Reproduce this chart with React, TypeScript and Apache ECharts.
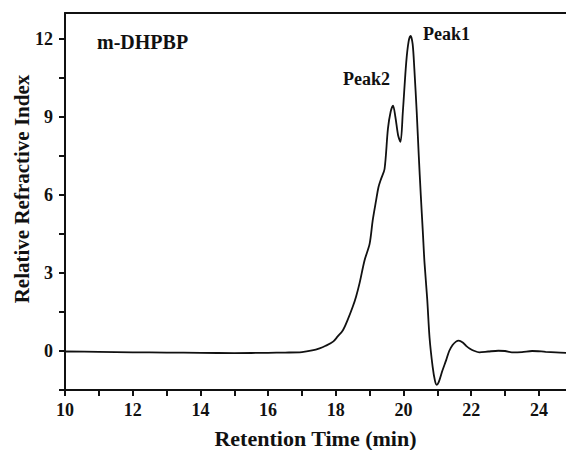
import React, { useEffect, useRef } from "react";
import * as echarts from "echarts";

// Retention time (min)
const times = [
  10, 11, 12, 13, 14, 15, 16, 16.5, 17, 17.3,
  17.52, 17.7, 17.92, 18.05, 18.21, 18.35, 18.5, 18.6, 18.7, 18.85,
  19.0, 19.09, 19.19, 19.26, 19.34, 19.44, 19.54, 19.62, 19.69, 19.76,
  19.84, 19.91, 19.98, 20.08, 20.15, 20.21, 20.27, 20.32, 20.39, 20.45,
  20.51, 20.57, 20.62, 20.7, 20.77, 20.86, 20.93, 20.98, 21.04, 21.15,
  21.26, 21.35, 21.45, 21.55, 21.63, 21.75, 21.85, 21.95, 22.1, 22.24,
  22.5, 22.8, 23.0, 23.2, 23.5, 23.8, 24.2, 24.5, 24.8,
];
// Relative refractive index signal
const signal = [
  -0.02, -0.03, -0.05, -0.06, -0.07, -0.08, -0.07, -0.06, -0.04, 0.02,
  0.1, 0.2, 0.36, 0.55, 0.8, 1.2, 1.7, 2.1, 2.6, 3.49,
  4.13, 5.02, 5.79, 6.3, 6.63, 7.0, 8.55, 9.2, 9.44, 9.0,
  8.3, 8.04, 9.19, 11.1, 11.9, 12.12, 11.8, 10.85, 9.19, 7.53,
  6.0, 4.6, 3.4, 2.0, 0.5, -0.6, -1.15, -1.3, -1.2, -0.75,
  -0.35, 0.0, 0.23, 0.36, 0.4, 0.33, 0.2, 0.1, 0.0, -0.05,
  -0.02, 0.01, 0.0, -0.05, -0.04, 0.0, -0.03, -0.05, -0.07,
];

const xTickValues = [10, 11, 12, 13, 14, 15, 16, 17, 18, 19, 20, 21, 22, 23, 24];
const xLabelValues = [10, 12, 14, 16, 18, 20, 22, 24];
const yTickValues = [-1.5, 0, 1.5, 3, 4.5, 6, 7.5, 9, 10.5, 12];
const yLabelValues = [0, 3, 6, 9, 12];

const sampleName = "m-DHPBP";
const peakLabels = ["Peak1", "Peak2"];
const xTitle = "Retention Time (min)";
const yTitle = "Relative Refractive Index";

const FONT = '"Liberation Serif", "Times New Roman", serif';
const INK = "#111111";

export default function App() {
  const ref = useRef<HTMLDivElement>(null);

  useEffect(() => {
    if (!ref.current) return;
    const chart = echarts.init(ref.current, undefined, { renderer: "svg" });
    const data = times.map((t, i) => [t, signal[i]]);
    const labelStyle = {
      fontFamily: FONT,
      fontWeight: "bold" as const,
      fontSize: 18,
      color: INK,
    };
    chart.setOption({
      animation: false,
      backgroundColor: "#ffffff",
      grid: {
        left: 65,
        top: 13,
        right: 0,
        bottom: 60,
        containLabel: false,
        outerBoundsMode: "none",
      },
      xAxis: [
        {
          type: "value",
          min: 10,
          max: 24.8,
          position: "bottom",
          axisLine: { show: true, onZero: false, lineStyle: { color: INK, width: 2 } },
          axisTick: {
            show: true,
            inside: false,
            length: 6,
            customValues: xTickValues,
            lineStyle: { color: INK, width: 2 },
          },
          axisLabel: {
            ...labelStyle,
            margin: 11,
            customValues: xLabelValues,
          },
          splitLine: { show: false },
          name: xTitle,
          nameLocation: "middle",
          nameGap: 37,
          nameTextStyle: { fontFamily: FONT, fontWeight: "bold", fontSize: 22, color: INK },
        },
        {
          type: "value",
          min: 10,
          max: 24.8,
          position: "top",
          axisLine: { show: true, onZero: false, lineStyle: { color: INK, width: 2 } },
          axisTick: { show: false },
          axisLabel: { show: false },
          splitLine: { show: false },
        },
      ],
      yAxis: {
        type: "value",
        min: -1.5,
        max: 13,
        axisLine: { show: true, onZero: false, lineStyle: { color: INK, width: 2 } },
        axisTick: {
          show: true,
          inside: false,
          length: 6,
          customValues: yTickValues,
          lineStyle: { color: INK, width: 2 },
        },
        axisLabel: {
          ...labelStyle,
          margin: 12,
          customValues: yLabelValues,
        },
        splitLine: { show: false },
      },
      graphic: [
        {
          type: "text",
          left: 97,
          top: 32,
          style: { text: sampleName, font: `bold 20px ${FONT}`, fill: INK },
        },
        {
          type: "text",
          left: 423,
          top: 25,
          style: { text: peakLabels[0], font: `bold 18px ${FONT}`, fill: INK },
        },
        {
          type: "text",
          left: 343,
          top: 70,
          style: { text: peakLabels[1], font: `bold 18px ${FONT}`, fill: INK },
        },
        {
          type: "text",
          x: 22,
          y: 189,
          rotation: Math.PI / 2,
          style: {
            text: yTitle,
            font: `bold 21px ${FONT}`,
            fill: INK,
            align: "center",
            verticalAlign: "middle",
          },
        },
      ],
      series: [
        {
          type: "line",
          xAxisIndex: 0,
          data,
          showSymbol: false,
          symbol: "none",
          smooth: 0.3,
          lineStyle: { color: INK, width: 1.8 },
          clip: true,
        },
      ],
    });
    return () => chart.dispose();
  }, []);

  return (
    <div
      ref={ref}
      style={{ position: "fixed", left: 0, top: 0, width: 566, height: 450, background: "#fff" }}
    />
  );
}
